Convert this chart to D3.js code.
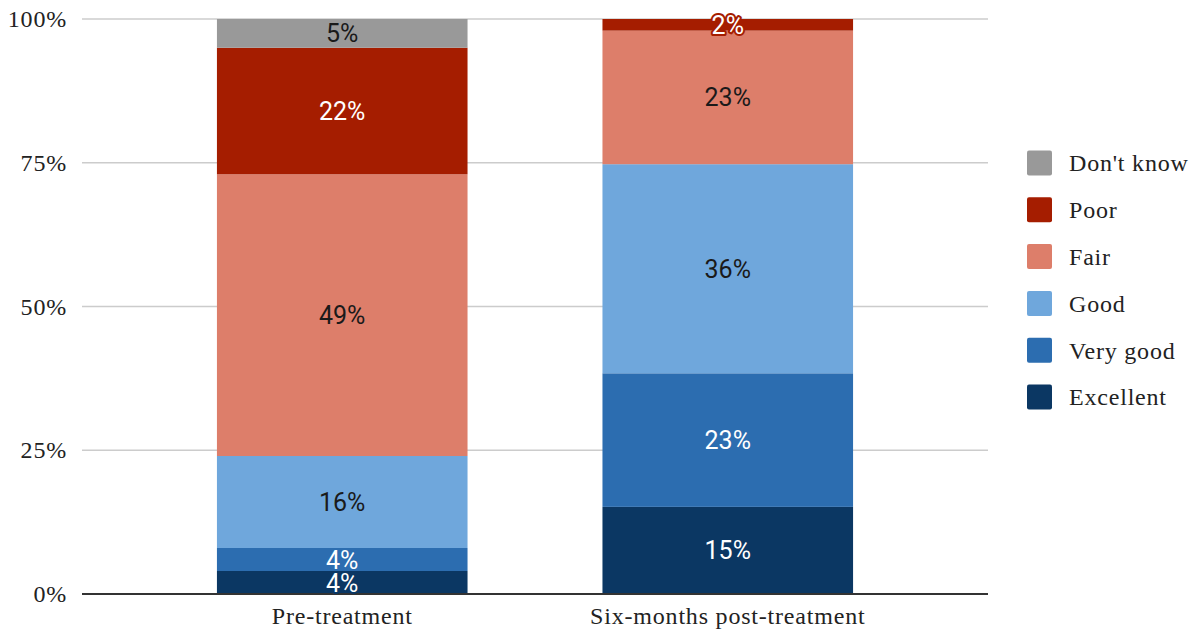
<!DOCTYPE html>
<html>
<head>
<meta charset="utf-8">
<script src="https://cdn.jsdelivr.net/npm/d3@7"></script>
<style>
  html, body { margin: 0; padding: 0; background: #ffffff; }
  svg { display: block; }
</style>
</head>
<body>
<svg id="chart" width="1197" height="635"></svg>
<script>
// Self-rated health, before and six months after treatment (percent of respondents)
const groups = ["Pre-treatment", "Six-months post-treatment"];
const ratings = ["Excellent", "Very good", "Good", "Fair", "Poor", "Don't know"];
const excellent = [4, 15];
const veryGood  = [4, 23];
const good      = [16, 36];
const fair      = [49, 23];
const poor      = [22, 2];
const dontKnow  = [5, 0];
const yTicks = [0, 0.25, 0.5, 0.75, 1];

const colors = {
  "Excellent": "#0b3763",
  "Very good": "#2c6db0",
  "Good": "#6fa7dc",
  "Fair": "#dd7e6a",
  "Poor": "#a51d00",
  "Don't know": "#999999"
};
const darkText = { "Good": true, "Fair": true, "Don't know": true };

const seriesValues = [excellent, veryGood, good, fair, poor, dontKnow];
const rows = groups.map((g, i) => {
  const r = { group: g };
  ratings.forEach((k, j) => { r[k] = seriesValues[j][i]; });
  return r;
});

const serif = "'Liberation Serif', 'Times New Roman', serif";
const serifSize = 24;
const serifSpacing = 0.8;

const svg = d3.select("#chart");
const margin = { left: 82, right: 209, top: 19, bottom: 41 };
const W = 1197, H = 635;

const x = d3.scaleBand()
  .domain(groups)
  .range([margin.left, W - margin.right])
  .paddingInner(0.35)
  .paddingOuter(0.35);

const y = d3.scaleLinear()
  .domain([0, 1])
  .range([H - margin.bottom, margin.top]);

// 100% stacked layout
const stacked = d3.stack().keys(ratings).offset(d3.stackOffsetExpand)(rows);

// gridlines
svg.append("g")
  .selectAll("line")
  .data(yTicks.filter(t => t > 0))
  .join("line")
  .attr("x1", margin.left).attr("x2", W - margin.right)
  .attr("y1", d => y(d)).attr("y2", d => y(d))
  .attr("stroke", "#cccccc").attr("stroke-width", 1.5);

// y axis labels
const yAxis = svg.append("g")
  .attr("transform", `translate(${margin.left},0)`)
  .call(d3.axisLeft(y).tickValues(yTicks).tickFormat(d3.format(".0%")).tickSize(0).tickPadding(15));
yAxis.select(".domain").remove();
yAxis.selectAll("text")
  .attr("font-family", serif)
  .attr("font-size", serifSize)
  .attr("letter-spacing", serifSpacing)
  .attr("fill", "#222");

// bars
const layer = svg.append("g")
  .selectAll("g")
  .data(stacked)
  .join("g")
  .attr("fill", d => colors[d.key]);

layer.selectAll("rect")
  .data(d => d.map(p => ({ key: d.key, p })))
  .join("rect")
  .attr("x", d => x(d.p.data.group))
  .attr("width", x.bandwidth())
  .attr("y", d => y(d.p[1]))
  .attr("height", d => y(d.p[0]) - y(d.p[1]));

// x axis baseline and labels
const xAxis = svg.append("g")
  .attr("transform", `translate(0,${y(0)})`)
  .call(d3.axisBottom(x).tickSize(0).tickPadding(13));
xAxis.select(".domain")
  .attr("d", `M${margin.left},0H${W - margin.right}`)
  .attr("stroke", "#333").attr("stroke-width", 1.8);
xAxis.selectAll("text")
  .attr("font-family", serif)
  .attr("font-size", serifSize)
  .attr("letter-spacing", serifSpacing)
  .attr("fill", "#222");

// value labels
const labels = [];
stacked.forEach(s => s.forEach(p => {
  const v = p.data[s.key];
  if (v > 0) labels.push({ key: s.key, v, p });
}));
svg.append("g")
  .selectAll("text")
  .data(labels)
  .join("text")
  .attr("x", d => x(d.p.data.group) + x.bandwidth() / 2)
  .attr("y", d => (y(d.p[0]) + y(d.p[1])) / 2)
  .attr("dy", "0.36em")
  .attr("text-anchor", "middle")
  .attr("font-family", "Roboto, Arial, sans-serif")
  .attr("font-size", 25)
  .attr("fill", d => darkText[d.key] ? "#1a1a1a" : "#ffffff")
  .attr("stroke", d => colors[d.key])
  .attr("stroke-width", 4)
  .attr("stroke-linejoin", "round")
  .attr("paint-order", "stroke")
  .text(d => d.v + "%");

// legend
const legendKeys = ratings.slice().reverse();
const legend = svg.append("g")
  .selectAll("g")
  .data(legendKeys)
  .join("g")
  .attr("transform", (d, i) => `translate(1027,${163 + i * 46.8})`);
legend.append("rect")
  .attr("x", 0).attr("y", -12.5)
  .attr("width", 25).attr("height", 25)
  .attr("rx", 2)
  .attr("fill", d => colors[d]);
legend.append("text")
  .attr("x", 42).attr("y", 0).attr("dy", "0.35em")
  .attr("font-family", serif)
  .attr("font-size", serifSize)
  .attr("letter-spacing", serifSpacing)
  .attr("fill", "#222")
  .text(d => d);
</script>
</body>
</html>
